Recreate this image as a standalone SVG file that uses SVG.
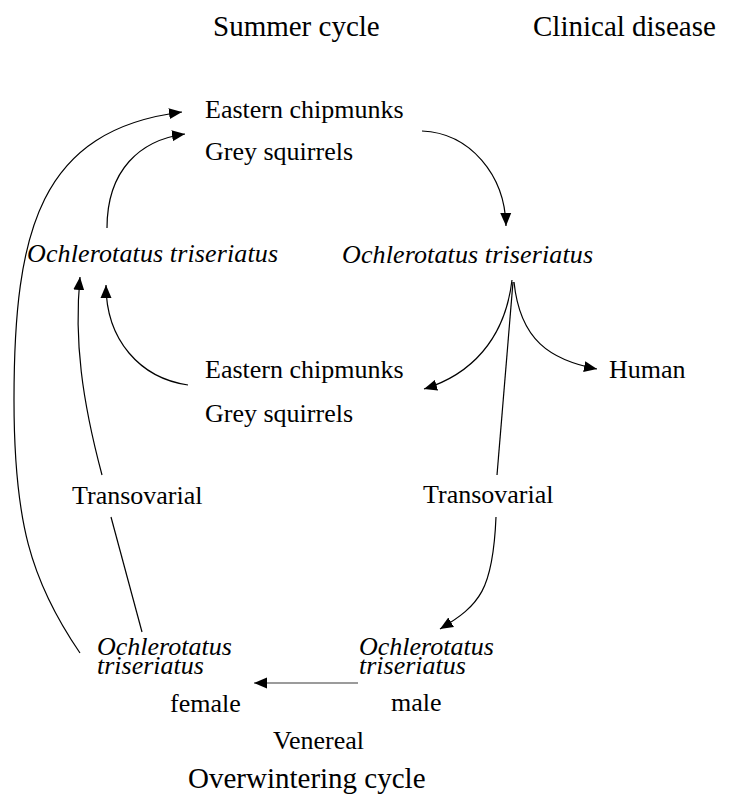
<svg xmlns="http://www.w3.org/2000/svg" width="743" height="804" viewBox="0 0 743 804">
<style>
text{font-family:"Liberation Serif","Times New Roman",serif;fill:#000;font-size:26px}
.h{font-size:29px}
.it{font-style:italic}
.sm{font-size:26px}
.c{fill:none;stroke:#000;stroke-width:1.2}
.g{fill:none;stroke:#7a7a7a;stroke-width:1.4}
</style>
<defs>
<marker id="ah" markerUnits="userSpaceOnUse" markerWidth="14" markerHeight="12" refX="13" refY="6" orient="auto">
<path d="M0,0.5 L13,6 L0,11.5 z" fill="#000"/>
</marker>
</defs>
<rect width="743" height="804" fill="#fff"/>
<g id="titles">
<text class="h" x="213" y="36">Summer cycle</text>
<text class="h" x="533" y="36">Clinical disease</text>
<text class="h" x="188" y="788">Overwintering cycle</text>
</g>
<g id="hosts-top">
<text x="205" y="118">Eastern chipmunks</text>
<text x="205" y="160">Grey squirrels</text>
</g>
<g id="mosq-left"><text class="it" x="27" y="262" textLength="251" lengthAdjust="spacing">Ochlerotatus triseriatus</text></g>
<g id="mosq-right"><text class="it" x="342" y="263" textLength="251" lengthAdjust="spacing">Ochlerotatus triseriatus</text></g>
<g id="hosts-mid">
<text x="205" y="378">Eastern chipmunks</text>
<text x="205" y="422">Grey squirrels</text>
</g>
<g id="human"><text x="609" y="378">Human</text></g>
<g id="trans-left"><text x="72" y="504">Transovarial</text></g>
<g id="trans-right"><text x="423" y="503">Transovarial</text></g>
<g id="female">
<text class="it" x="97" y="655">Ochlerotatus</text>
<text class="it" x="97" y="674">triseriatus</text>
<text x="170" y="712">female</text>
</g>
<g id="male">
<text class="it" x="359" y="655">Ochlerotatus</text>
<text class="it" x="359" y="674">triseriatus</text>
<text x="391" y="711">male</text>
</g>
<g id="venereal"><text x="273" y="749">Venereal</text></g>
<g id="connectors">
<path class="c" d="M80,653 C30,580 14,520 14,400 C14,230 40,130 182,112" marker-end="url(#ah)"/>
<path class="c" d="M107,228 C107,170 140,140 185,134" marker-end="url(#ah)"/>
<path class="c" d="M422,131 C470,133 505,175 506,226" marker-end="url(#ah)"/>
<path class="c" d="M512,280 C505,340 470,375 424,389" marker-end="url(#ah)"/>
<path class="c" d="M514,282 C520,340 550,360 597,369" marker-end="url(#ah)"/>
<path class="c" d="M513,282 L497,475"/>
<path class="c" d="M496,517 C493,590 480,605 440,629" marker-end="url(#ah)"/>
<path class="c" d="M188,385 C140,378 106,340 106,285" marker-end="url(#ah)"/>
<path class="c" d="M142,632 L111,517"/>
<path class="c" d="M102,475 C82,400 74,340 80,277" marker-end="url(#ah)"/>
<path class="g" d="M358,683 L254,683" marker-end="url(#ah)"/>
</g>
</svg>
